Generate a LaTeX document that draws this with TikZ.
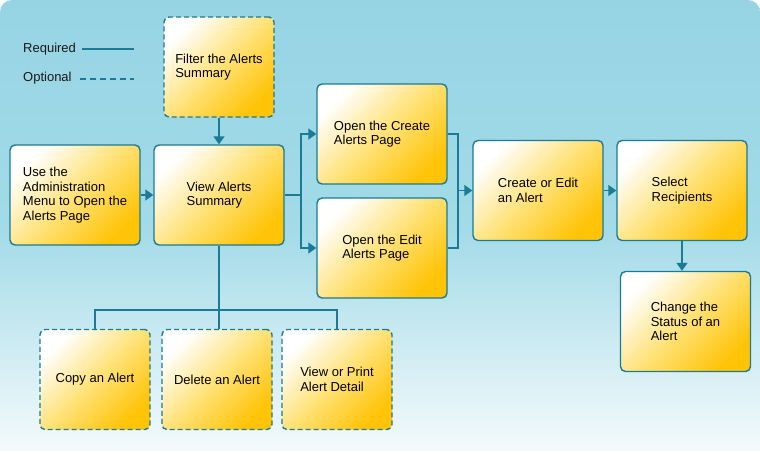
\documentclass[tikz,border=0pt]{standalone}
\usepackage{fontspec}
\setmainfont{Liberation Sans}
\usetikzlibrary{arrows.meta, positioning}
\definecolor{flowline}{RGB}{27,122,150}
\definecolor{bgtop}{RGB}{150,212,228}
\definecolor{bgmid}{RGB}{163,219,232}
\definecolor{bgbot}{RGB}{248,252,253}
\definecolor{boxmid}{RGB}{255,226,120}
\definecolor{boxend}{RGB}{255,196,8}
\def\rowy{195}

\begin{document}
\begin{tikzpicture}[x=1pt,y=-1pt,>={Triangle[length=8pt,width=11pt]},
    font=\fontsize{13}{14.5}\selectfont]
    \tikzstyle{task}=[draw=flowline, line width=1.4pt, rounded corners=5pt,
        minimum width=130pt, minimum height=100pt, inner sep=0pt, align=left,
        top color=white, bottom color=boxend, middle color=boxmid,
        shading angle=45, text=black]
    \tikzstyle{optional task}=[task, minimum width=110pt, dash pattern=on 5pt off 3pt]
    \tikzstyle{link}=[draw=flowline, line width=1.6pt]
    \tikzstyle{legend}=[anchor=west, inner sep=0pt, text=black!90]

    % Draw the background
    \useasboundingbox (0,0) rectangle (760,450);
    \fill[white] (0,0) rectangle (760,450);
    \begin{scope}
        \clip (0,0) rectangle (760,450);
        \shade[top color=bgtop, bottom color=bgbot, middle color=bgmid,
            rounded corners=12pt] (0,0) rectangle (760,462);
    \end{scope}

    % Draw the legend
    \node[legend] (required) at (23,49) {Required};
    \node[legend] (optional) at (23,78) {Optional};
    \coordinate (req a) at (82,49);
    \coordinate (req b) at (134,49);
    \coordinate (opt a) at (80,79);
    \coordinate (opt b) at (134,79);
    \draw[link] (req a) -- (req b);
    \draw[link, dash pattern=on 6pt off 4pt] (opt a) -- (opt b);

    % Draw the main row of tasks
    \node[task] (admin) at (75,\rowy) {Use the\\Administration\\Menu to Open the\\Alerts Page};
    \node[task] (view) at (219,\rowy) {View Alerts\\Summary};
    \node[optional task] (filter) at (219,67) {Filter the Alerts\\Summary};
    \node[task] (create) at (382,134) {Open the Create\\Alerts Page};
    \node[task] (edit) at (382,248) {Open the Edit\\Alerts Page};
    \node[task] (edit alert) at (538,190.5) {Create or Edit\\an Alert};
    \node[task] (recipients) at (682,190.5) {Select\\Recipients};
    \node[task] (status) at (685.5,321.5) {Change the\\Status of an\\Alert};

    % Draw the optional tasks below the summary
    \foreach \name/\x/\txt in {copy/95/{Copy an Alert}, delete/217/{Delete an Alert},
        print/337/{View or Print\\Alert Detail}}
        \node[optional task] (\name) at (\x,379.5) {\txt};

    % Connect the tasks
    \draw[link,->] (filter) -- (view);
    \draw[link,->] (admin) -- (view);
    \coordinate (split) at (301,\rowy);
    \draw[link] (view) -- (split);
    \draw[link,->] (split) |- (create);
    \draw[link,->] (split) |- (edit);
    \coordinate (merge) at (458,190.5);
    \draw[link] (create) -| (merge);
    \draw[link] (edit) -| (merge);
    \draw[link,->] (merge) -- (edit alert);
    \draw[link,->] (edit alert) -- (recipients);
    \draw[link,->] (recipients.south) -- (recipients.south |- status.north);

    % Connect the summary with the optional tasks
    \coordinate (fork) at (219,310);
    \draw[link] (view) -- (fork);
    \draw[link] (fork) -- (delete.north -| fork);
    \foreach \dest in {copy,print}
        \draw[link] (fork) -| (\dest);
\end{tikzpicture}
\end{document}
